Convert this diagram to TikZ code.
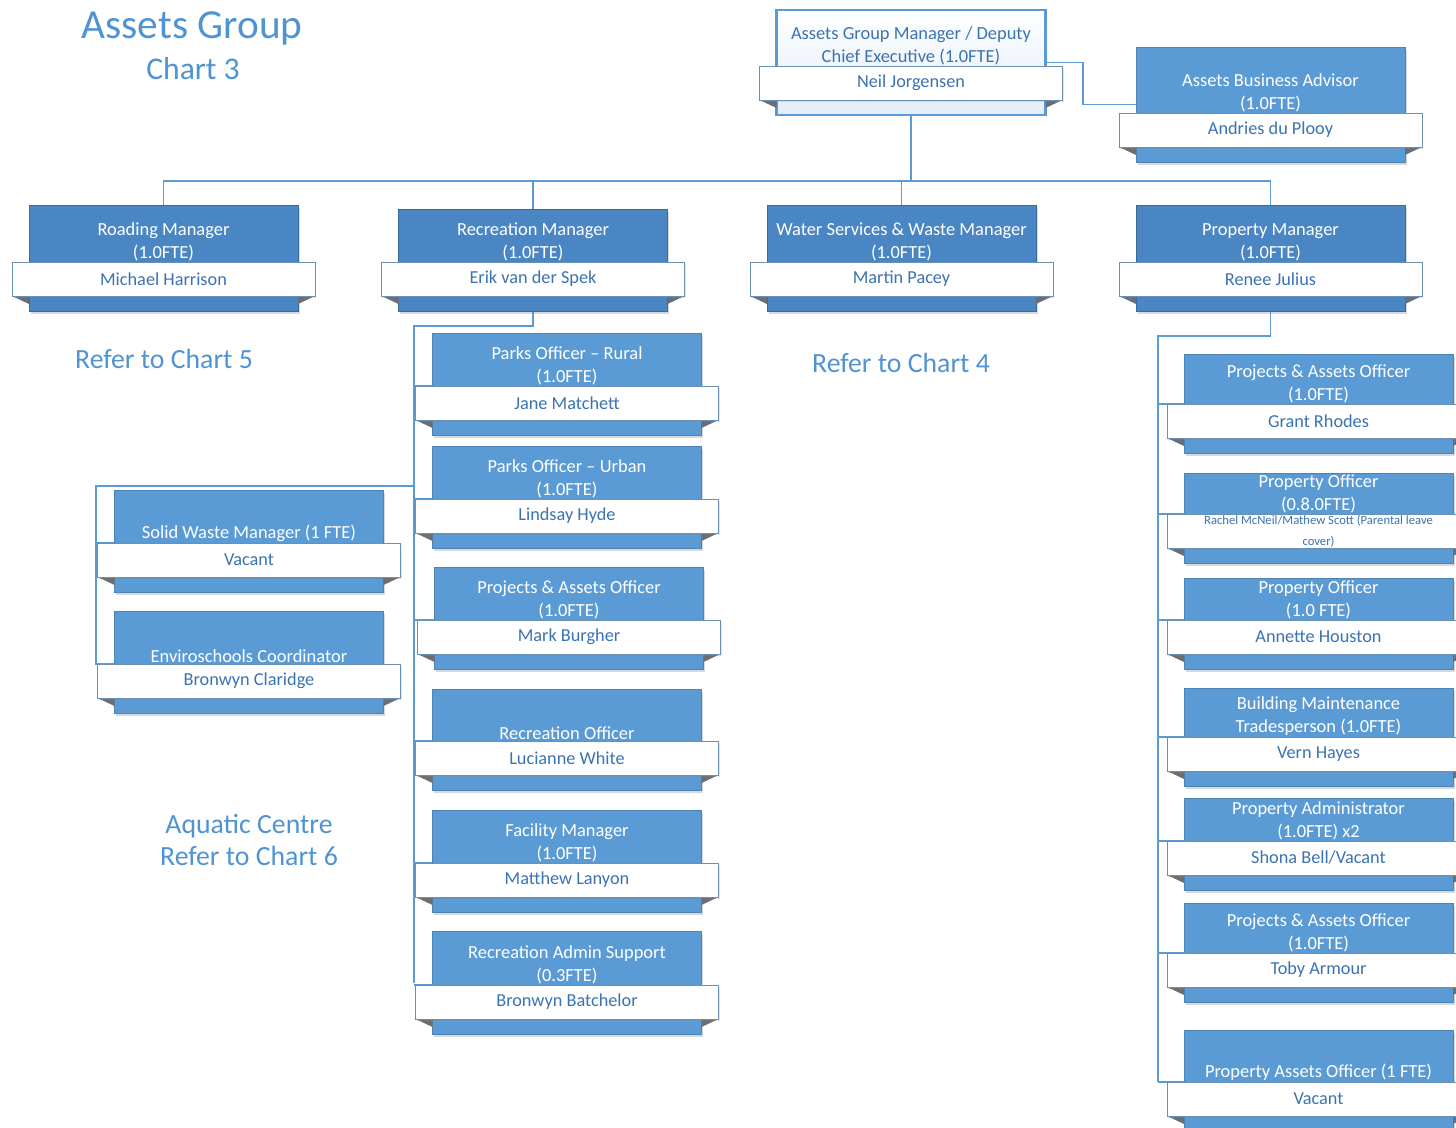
\documentclass[tikz,border=0pt]{standalone}
\usepackage{fontspec}
\setmainfont{Carlito}
\usetikzlibrary{positioning,fit,calc,shadows}

\definecolor{boxblue}{HTML}{5B9BD5}
\definecolor{mgrblue}{HTML}{4A86C4}
\definecolor{lineblue}{HTML}{5B9BD5}
\definecolor{nameblue}{HTML}{3A73B2}
\definecolor{titleblue}{HTML}{4F93D2}
\definecolor{foldgray}{HTML}{6B6F75}

\pgfdeclarelayer{bg}
\pgfsetlayers{bg,main}

% name, style, centre x, top y, ribbon y, role, person
\newcommand{\orgbox}[7]{%
  \node[#2, fit={(#3-134.5,#4) (#3+134.5,#5+49)}] (#1-b) {};
  \fill[fold] (#3-151.5,#5+34) -- (#3-134.5,#5+34) -- (#3-134.5,#5+42) -- cycle;
  \fill[fold] (#3+151.5,#5+34) -- (#3+134.5,#5+34) -- (#3+134.5,#5+42) -- cycle;
  \node[ribbon] (#1) at (#3,#5+17) {#7};
  \node[rolename, #2 role, anchor=south] (#1-t) at (#3,#5) {#6};
}

\begin{document}
\begin{tikzpicture}[x=0.02cm,y=-0.02cm,
    staff/.style={draw=boxblue!85!black, fill=boxblue, inner sep=0pt, line width=0.4pt,
      drop shadow={shadow xshift=1pt, shadow yshift=-1.5pt, opacity=0.3}},
    manager/.style={staff, fill=mgrblue, draw=mgrblue!80!black},
    chief/.style={inner sep=0pt, draw=boxblue, line width=1.2pt, top color=white, bottom color=boxblue!18},
    staff role/.style={text=white},
    manager role/.style={text=white},
    chief role/.style={text=nameblue},
    ribbon/.style={draw=boxblue!60!gray, fill=white, line width=0.5pt, minimum width=6.06cm,
      minimum height=0.68cm, inner sep=0pt, text width=5.8cm, align=flush center, text=nameblue,
      font=\fontsize{10.4}{12}\selectfont,
      drop shadow={shadow xshift=0.8pt, shadow yshift=-1pt, opacity=0.2}},
    rolename/.style={align=center, inner sep=0.6pt, font=\fontsize{10.5}{13}\selectfont},
    fold/.style={fill=foldgray},
    link/.style={draw=lineblue, line width=1.1pt},
    note/.style={text=titleblue, align=center, font=\fontsize{15.8}{18.7}\selectfont}]
  \useasboundingbox (0,0) rectangle (1456,1128);

  % headings
  \node[note, font=\fontsize{23.5}{26}\selectfont] (head) at (192,28) {Assets Group};
  \node[note, font=\fontsize{18}{20}\selectfont] (chart) at (193,69) {Chart 3};

  % top
  \orgbox{gm}{chief}{911}{10}{66}{Assets Group Manager / Deputy\\Chief Executive (1.0FTE)}{Neil Jorgensen}
  \orgbox{aba}{staff}{1270.5}{47}{113}{Assets Business Advisor\\(1.0FTE)}{Andries du Plooy}

  % managers
  \orgbox{road}{manager}{163.5}{205}{262}{Roading Manager\\(1.0FTE)}{Michael Harrison}
  \orgbox{rec}{manager}{533}{209}{262}{Recreation Manager\\(1.0FTE)}{Erik van der Spek}
  \orgbox{water}{manager}{901.5}{205}{262}{Water Services \& Waste Manager\\(1.0FTE)}{Martin Pacey}
  \orgbox{prop}{manager}{1270.5}{205}{262}{Property Manager\\(1.0FTE)}{Renee Julius}

  \node[note] (ref5) at (164,359) {Refer to Chart 5};
  \node[note] (ref4) at (901,363) {Refer to Chart 4};
  \node[note] (ref6) at (249,840) {Aquatic Centre\\Refer to Chart 6};

  % recreation team
  \orgbox{rec1}{staff}{567}{333}{386}{Parks Officer -- Rural\\(1.0FTE)}{Jane Matchett}
  \orgbox{rec2}{staff}{567}{446}{499}{Parks Officer -- Urban\\(1.0FTE)}{Lindsay Hyde}
  \orgbox{rec3}{staff}{569}{567}{620}{Projects \& Assets Officer\\(1.0FTE)}{Mark Burgher}
  \orgbox{rec4}{staff}{567}{689}{741}{Recreation Officer}{Lucianne White}
  \orgbox{rec5}{staff}{567}{810}{863}{Facility Manager\\(1.0FTE)}{Matthew Lanyon}
  \orgbox{rec6}{staff}{567}{931}{985}{Recreation Admin Support\\(0.3FTE)}{Bronwyn Batchelor}
  \orgbox{sw}{staff}{249}{490}{543}{Solid Waste Manager (1 FTE)}{Vacant}
  \orgbox{env}{staff}{249}{611}{664}{Enviroschools Coordinator}{Bronwyn Claridge}

  % property team
  \orgbox{pp1}{staff}{1318.5}{354}{404}{Projects \& Assets Officer\\(1.0FTE)}{Grant Rhodes}
  \orgbox{pp2}{staff}{1318.5}{473}{514}{Property Officer\\(0.8.0FTE)}{\fontsize{7.2}{9}\selectfont Rachel McNeil/Mathew Scott (Parental leave\\cover)}
  \orgbox{pp3}{staff}{1318.5}{578}{620}{Property Officer\\(1.0 FTE)}{Annette Houston}
  \orgbox{pp4}{staff}{1318.5}{688}{737}{Building Maintenance\\Tradesperson (1.0FTE)}{Vern Hayes}
  \orgbox{pp5}{staff}{1318.5}{798}{841}{Property Administrator\\(1.0FTE) x2}{Shona Bell/Vacant}
  \orgbox{pp6}{staff}{1318.5}{903}{953}{Projects \& Assets Officer\\(1.0FTE)}{Toby Armour}
  \orgbox{pp7}{staff}{1318.5}{1030}{1082}{Property Assets Officer (1 FTE)}{Vacant}

  \begin{pgfonlayer}{bg}
    \coordinate (bus) at (911,181);
    \coordinate (rsp) at (414,326);
    \coordinate (lsp) at (96,486);
    \coordinate (psp) at (1158,336);
    \draw[link] (gm-b.south) -- (bus);
    \draw[link] (gm-b.east) -- ++(36,0) |- (aba-b.west);
    \draw[link] (road-b.north) |- (bus) -| (prop-b.north);
    \draw[link] (rec-b.north) -- (rec-b.north |- bus);
    \draw[link] (water-b.north) -- (water-b.north |- bus);
    % recreation spine
    \draw[link] (rec-b.south) |- (rsp) -- (rsp |- rec6-b.west);
    \foreach \c in {rec1,rec2,rec3,rec4,rec5,rec6}
      \draw[link] (rsp |- \c.north) -- (\c-b.west |- \c.north);
    \draw[link] (rsp |- lsp) -- (lsp) -- (lsp |- env.north) -- (env-b.west |- env.north);
    \draw[link] (lsp |- sw.north) -- (sw-b.west |- sw.north);
    % property spine
    \draw[link] (prop-b.south) |- (psp) -- (psp |- pp7.north);
    \foreach \c in {pp1,pp2,pp3,pp4,pp5,pp6,pp7}
      \draw[link] (psp |- \c.north) -- (\c-b.west |- \c.north);
  \end{pgfonlayer}
\end{tikzpicture}
\end{document}
